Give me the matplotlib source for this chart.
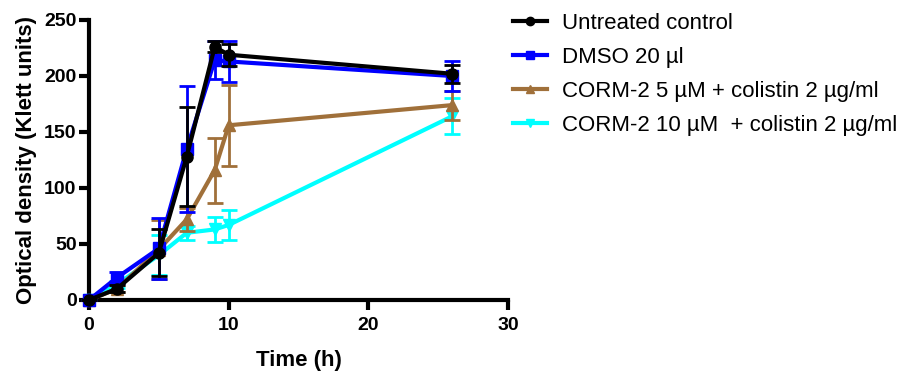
import matplotlib
matplotlib.use("Agg")
import matplotlib.pyplot as plt
from matplotlib.lines import Line2D

plt.rcParams['font.family'] = ['Liberation Sans', 'DejaVu Sans']

time_h = [0, 2, 5, 7, 9, 10, 26]

labels = [
    "Untreated control",
    "DMSO 20 µl",
    "CORM-2 5 µM + colistin 2 µg/ml",
    "CORM-2 10 µM  + colistin 2 µg/ml",
]
colors = ["#000000", "#0000ff", "#a0703a", "#00ffff"]
markers = ["o", "s", "^", "v"]

control_mean = [0, 10, 42, 128, 226, 219, 202]
control_err = [0, 3, 21, 44, 5, 10, 8]
dmso_mean = [0, 20, 46, 135, 214, 213, 200]
dmso_err = [0, 5, 27, 56, 17, 18, 13]
corm5_mean = [0, 10, 45, 72, 116, 156, 174]
corm5_err = [0, 3, 26, 10, 29, 36, 13]
corm10_mean = [0, 14, 40, 60, 63, 67, 164]
corm10_err = [0, 3, 18, 6, 11, 13, 16]

means = [control_mean, dmso_mean, corm5_mean, corm10_mean]
errs = [control_err, dmso_err, corm5_err, corm10_err]

fig = plt.figure(figsize=(9.05, 3.75), dpi=100)
ax = fig.add_axes([89 / 905, 1 - 300 / 375, 419 / 905, 280 / 375])

# draw from last to first so the control sits on top
for i in reversed(range(4)):
    ax.errorbar(time_h, means[i], yerr=errs[i], color=colors[i],
                marker=markers[i], markersize=8, linewidth=3,
                elinewidth=2, capsize=6, capthick=2, zorder=3 + (4 - i),
                clip_on=False)

ax.set_xlim(0, 30)
ax.set_ylim(0, 250)
ax.set_xticks([0, 10, 20, 30])
ax.set_yticks([0, 50, 100, 150, 200, 250])
for s in ["top", "right"]:
    ax.spines[s].set_visible(False)
for s in ["left", "bottom"]:
    ax.spines[s].set_linewidth(3)
ax.tick_params(width=3, length=7, labelsize=14)
ax.tick_params(axis="x", pad=5)
ax.tick_params(axis="y", pad=2)
for lab in ax.get_xticklabels() + ax.get_yticklabels():
    lab.set_fontweight("bold")
ax.set_xlabel("Time (h)", fontsize=16, fontweight="bold", labelpad=12)
ax.set_ylabel("Optical density (Klett units)", fontsize=16, fontweight="bold", labelpad=5)

handles = [Line2D([0], [0], color=c, marker=m, markersize=6, linewidth=3)
           for c, m in zip(colors, markers)]
fig.legend(handles, labels, loc="upper left", bbox_to_anchor=(513 / 905, 1 - 13 / 375),
           frameon=False, fontsize=16, handlelength=1.55, labelspacing=0.58,
           handletextpad=0.65, borderpad=0, borderaxespad=0)

fig.savefig("out.png", dpi=100)
